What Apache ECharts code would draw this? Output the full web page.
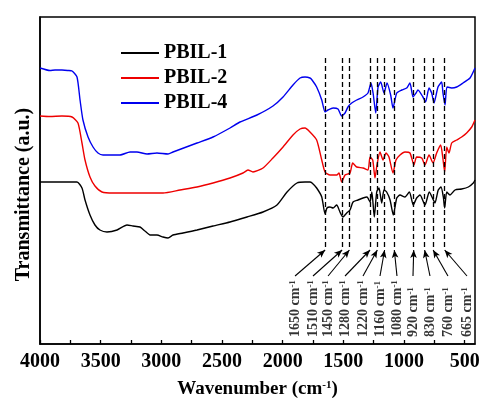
<!DOCTYPE html>
<html>
<head>
<meta charset="utf-8">
<script src="https://cdn.jsdelivr.net/npm/echarts@6/dist/echarts.min.js"></script>
<style>html,body{margin:0;padding:0;background:#fff}#c{width:485px;height:406px}</style>
</head>
<body>
<div id="c"></div>
<script>
const wnBlue = [4000,3918,3876,3819,3769,3736,3695,3670,3646,3604,3563,3522,3481,3341,3258,3201,3118,3036,2945,2904,2706,2574,2434,2352,2212,2080,1997,1915,1857,1816,1775,1758,1720,1678,1651,1626,1585,1544,1514,1486,1462,1431,1390,1338,1297,1272,1255,1233,1214,1192,1165,1140,1110,1091,1060,1019,978,951,926,901,885,844,822,794,772,753,720,690,679,662,646,607,566,514,456,415];
const tBlue = [276,273.5,274,274,273.5,273,267,244,224,207,197,191,189,189,192,192,190,191,190,192,201,207,216,222,229,238,247,259,266,267,266,264,257,244,232,234,236,235,228,231,237,241,244,247,251,261,251,231,257,262,251,261,249,236,251,254,256,261,247,251,254,247,242,256,251,241,257,262,251,239,257,256,257,261,266,276];

const wnRed = [4000,3918,3819,3736,3687,3654,3629,3588,3547,3489,3398,3258,2986,2846,2706,2574,2434,2327,2286,2245,2162,2080,1997,1915,1857,1816,1775,1720,1678,1651,1610,1555,1536,1514,1486,1445,1423,1390,1338,1297,1280,1258,1239,1223,1198,1173,1148,1124,1091,1066,1033,992,951,918,896,854,827,794,761,731,698,681,665,648,629,607,566,525,484,442,415];
const tRed = [228,227.5,228,227,221,201,184,167,158,152,151,151,151,154,157,161,166,171,174,172,176,186,197,209,215,216,212,204,184,172,169,169,171,162,169,171,181,177,176,174,187,184,166,179,192,184,191,187,171,184,189,192,191,179,187,186,179,189,181,191,199,187,172,197,191,201,204,207,211,217,224];

const wnBlack = [4000,3918,3695,3654,3629,3588,3547,3506,3448,3365,3283,3234,3176,3135,3093,3036,2986,2945,2904,2821,2706,2574,2434,2294,2162,2047,1964,1882,1816,1775,1758,1720,1678,1651,1635,1610,1585,1555,1528,1503,1472,1445,1420,1379,1338,1305,1280,1265,1245,1225,1206,1184,1165,1143,1115,1088,1060,1033,992,956,924,896,868,827,792,758,745,718,695,676,665,648,621,580,525,470,429,415];
const tBlack = [162,162,162,156,144,129,119,114,112,114,119,118,117,113,109,109,107,106,109,111,114,118,122,127,132,139,152,161,162,162,161,156,147,130,136,137,136,139,132,127,131,134,142,144,146,147,142,152,127,152,156,141,154,152,144,129,146,149,147,152,139,146,149,139,152,144,141,154,157,147,136,152,149,154,155,157,161,164];

const seriesNames = ['PBIL-1','PBIL-2','PBIL-4'];
const peaks = [1650,1510,1450,1280,1220,1160,1080,920,830,760,665];
const labelPos = [1898,1750,1626,1486,1338,1198,1058,926,786,638,481];
const xLabelTicks = [4000,3500,3000,2500,2000,1500,1000,500];
const xMinorTicks = [4000,3750,3500,3250,3000,2750,2500,2250,2000,1750,1500,1250,1000,750,500];

const dashTop = 286, dashBottom = 97, arrowTail = 68, arrowHead = 94, labelBase = 7;

const FONT = "'Liberation Serif','Times New Roman',serif";
const zip = (a, b) => a.map((v, i) => [v, b[i]]);

const dashLines = peaks.map(p => [
  {coord: [p, dashTop], symbol: 'none', lineStyle: {type: [5, 3], width: 1.3, color: '#000'}},
  {coord: [p, dashBottom], symbol: 'none'}
]);
const arrows = peaks.map((p, i) => [
  {coord: [labelPos[i], arrowTail], symbol: 'none', lineStyle: {type: 'solid', width: 1.1, color: '#000'}},
  {coord: [p, arrowHead], symbol: 'arrow', symbolSize: [5, 8]}
]);

const chart = echarts.init(document.getElementById('c'), null, {renderer: 'canvas'});
chart.setOption({
  animation: false,
  backgroundColor: '#fff',
  grid: {left: 40, right: 10, top: 17, bottom: 62, show: true, borderColor: '#000', borderWidth: 1.5, backgroundColor: 'transparent'},
  legend: {
    data: seriesNames, orient: 'vertical', left: 116, top: 38, itemGap: 5,
    itemWidth: 38, itemHeight: 2, icon: 'rect', selectedMode: false,
    textStyle: {fontFamily: FONT, fontWeight: 'bold', fontSize: 20, color: '#000'}
  },
  xAxis: {
    type: 'value', inverse: true, min: 415, max: 4000,
    name: '{a|Wavenumber (cm}{s|-1}{a|)}', nameLocation: 'middle', nameGap: 36,
    nameTextStyle: {rich: {
      a: {fontFamily: FONT, fontWeight: 'bold', fontSize: 19, color: '#000'},
      s: {fontFamily: FONT, fontWeight: 'bold', fontSize: 11, color: '#000', verticalAlign: 'top'}
    }},
    axisLine: {show: true, lineStyle: {color: '#000', width: 1.5}},
    axisTick: {show: true, inside: true, length: 4, lineStyle: {color: '#000', width: 1.3}, customValues: xMinorTicks},
    axisLabel: {show: true, margin: 8, customValues: xLabelTicks, formatter: v => String(v), fontFamily: FONT, fontWeight: 'bold', fontSize: 20, color: '#000'},
    splitLine: {show: false}
  },
  yAxis: {
    type: 'value', min: 0, max: 327,
    name: 'Transmittance (a.u.)', nameLocation: 'middle', nameGap: 6, nameRotate: 90,
    nameTextStyle: {fontFamily: FONT, fontWeight: 'bold', fontSize: 20, color: '#000', padding: [0, 28, 0, 0]},
    axisLine: {show: true, lineStyle: {color: '#000', width: 1.5}},
    axisTick: {show: false}, axisLabel: {show: false}, splitLine: {show: false}
  },
  series: [
    {name: 'PBIL-1', type: 'line', data: zip(wnBlack, tBlack), showSymbol: false, smooth: 0.2, color: '#000', lineStyle: {width: 1.4, color: '#000'}},
    {name: 'PBIL-2', type: 'line', data: zip(wnRed, tRed), showSymbol: false, smooth: 0.2, color: '#ee0000', lineStyle: {width: 1.4, color: '#ee0000'}},
    {name: 'PBIL-4', type: 'line', data: zip(wnBlue, tBlue), showSymbol: false, smooth: 0.2, color: '#0000ee', lineStyle: {width: 1.4, color: '#0000ee'}},
    {
      name: 'annot', type: 'line', data: [], silent: true,
      markLine: {silent: true, animation: false, label: {show: false}, emphasis: {disabled: true},
        symbol: 'none', data: dashLines.concat(arrows)}
    },
    {
      name: 'labels', type: 'scatter', silent: true, symbolSize: 0,
      data: labelPos.map(x => [x, labelBase]),
      label: {
        show: true, position: [0, 0], rotate: 90, align: 'left', verticalAlign: 'middle',
        formatter: p => '{a|' + peaks[p.dataIndex] + ' cm}{s|-1}',
        rich: {
          a: {fontFamily: FONT, fontWeight: 'bold', fontSize: 14, color: '#000'},
          s: {fontFamily: FONT, fontWeight: 'bold', fontSize: 9, color: '#000', verticalAlign: 'top'}
        }
      }
    }
  ]
});
</script>
</body>
</html>
